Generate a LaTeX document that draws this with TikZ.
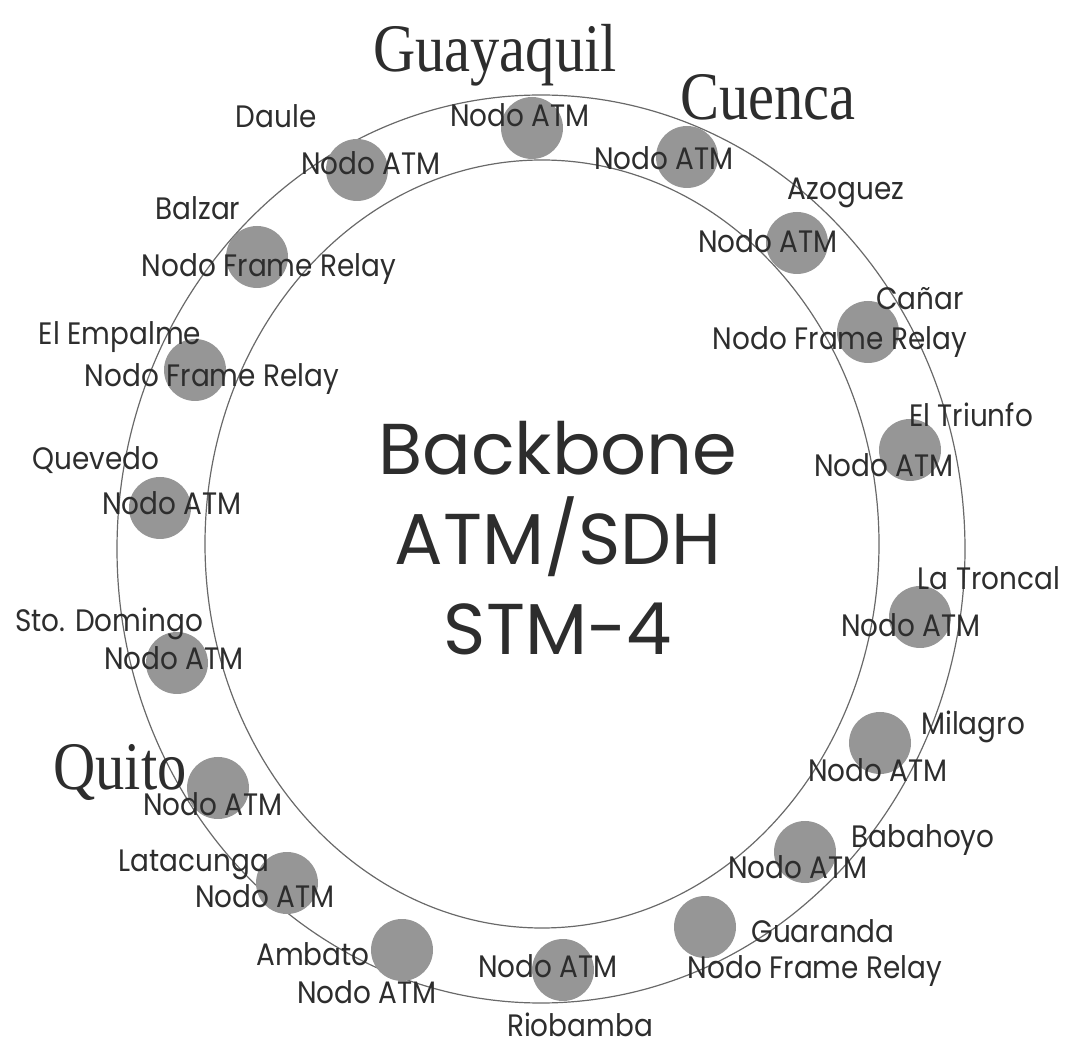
\documentclass[tikz,border=0pt]{standalone}
\usepackage{fontspec}
\newfontfamily\etiqfont[FakeStretch=0.9]{Poppins}
\newfontfamily\titulofont{Poppins}
\newfontfamily\ciudadfont[FakeStretch=0.86]{Liberation Serif}
\definecolor{nodogris}{RGB}{150,150,150}
\definecolor{tinta}{RGB}{45,45,45}
\definecolor{grisanillo}{RGB}{105,105,105}

\begin{document}
\begin{tikzpicture}[x=0.5pt, y=-0.5pt,
        nodo/.style={circle, fill=nodogris, minimum size=31pt, inner sep=0pt},
        tipo/.style={text=tinta, font=\etiqfont\fontsize{15.5}{18}\selectfont, inner sep=0pt, anchor=base},
        sitio/.style={text=tinta, font=\etiqfont\fontsize{15.5}{18}\selectfont, inner sep=0pt, anchor=base},
        ciudad/.style={text=tinta, font=\ciudadfont\fontsize{34}{40}\selectfont, inner sep=0pt, anchor=base},
        titulo/.style={text=tinta, font=\titulofont\fontsize{36}{45}\selectfont, align=center, inner sep=0pt},
        anillo/.style={draw=grisanillo, line width=0.6pt}
    ]
        \useasboundingbox (0,0) rectangle (1077,1047);

        % anillo del backbone
        \draw[anillo] (541,549) ellipse [x radius=212pt, y radius=227pt];
        \draw[anillo] (542,544) ellipse [x radius=168.5pt, y radius=192pt];

        % nodos
        \node[nodo] (gye) at (532,128) {};
        \node[nodo] (cue) at (687,157) {};
        \node[nodo] (daule) at (357,170) {};
        \node[nodo] (balzar) at (257,257) {};
        \node[nodo] (empalme) at (195,370) {};
        \node[nodo] (quevedo) at (160,508) {};
        \node[nodo] (domingo) at (177,663) {};
        \node[nodo] (uio) at (218,788) {};
        \node[nodo] (latacunga) at (287,883) {};
        \node[nodo] (ambato) at (402,950) {};
        \node[nodo] (riobamba) at (563,970) {};
        \node[nodo] (guaranda) at (705,927) {};
        \node[nodo] (babahoyo) at (805,852) {};
        \node[nodo] (milagro) at (880,743) {};
        \node[nodo] (troncal) at (920,617) {};
        \node[nodo] (triunfo) at (910,450) {};
        \node[nodo] (canar) at (868,332) {};
        \node[nodo] (azogues) at (797,243) {};

        % tipo de nodo
        \node[tipo] (gye-tipo) at (520,127) {Nodo ATM};
        \node[tipo] (cue-tipo) at (664,170) {Nodo ATM};
        \node[tipo] (daule-tipo) at (371,175) {Nodo ATM};
        \node[tipo] (balzar-tipo) at (269,277) {Nodo Frame Relay};
        \node[tipo] (empalme-tipo) at (212,387) {Nodo Frame Relay};
        \node[tipo] (quevedo-tipo) at (172,515) {Nodo ATM};
        \node[tipo] (domingo-tipo) at (174,670) {Nodo ATM};
        \node[tipo] (uio-tipo) at (213,815) {Nodo ATM};
        \node[tipo] (latacunga-tipo) at (265,907) {Nodo ATM};
        \node[tipo] (ambato-tipo) at (367,1003) {Nodo ATM};
        \node[tipo] (riobamba-tipo) at (548,977) {Nodo ATM};
        \node[tipo] (guaranda-tipo) at (815,978) {Nodo Frame Relay};
        \node[tipo] (babahoyo-tipo) at (798,878) {Nodo ATM};
        \node[tipo] (milagro-tipo) at (878,782) {Nodo ATM};
        \node[tipo] (troncal-tipo) at (911,637) {Nodo ATM};
        \node[tipo] (triunfo-tipo) at (884,477) {Nodo ATM};
        \node[tipo] (canar-tipo) at (840,350) {Nodo Frame Relay};
        \node[tipo] (azogues-tipo) at (768,253) {Nodo ATM};

        % nombres de sitios
        \node[sitio] (daule-nombre) at (276,128) {Daule};
        \node[sitio] (balzar-nombre) at (198,220) {Balzar};
        \node[sitio] (empalme-nombre) at (120,345) {El Empalme};
        \node[sitio] (quevedo-nombre) at (96,470) {Quevedo};
        \node[sitio] (domingo-nombre) at (109,632) {Sto. Domingo};
        \node[sitio] (latacunga-nombre) at (194,871) {Latacunga};
        \node[sitio] (ambato-nombre) at (313,965) {Ambato};
        \node[sitio] (riobamba-nombre) at (580,1036) {Riobamba};
        \node[sitio] (guaranda-nombre) at (823,942) {Guaranda};
        \node[sitio] (babahoyo-nombre) at (923,848) {Babahoyo};
        \node[sitio] (milagro-nombre) at (973,735) {Milagro};
        \node[sitio] (troncal-nombre) at (989,590) {La Troncal};
        \node[sitio] (triunfo-nombre) at (971,427) {El Triunfo};
        \node[sitio] (canar-nombre) at (920,310) {Cañar};
        \node[sitio] (azogues-nombre) at (846,200) {Azoguez};

        % ciudades principales
        \node[ciudad] (gye-nombre) at (495,72) {Guayaquil};
        \node[ciudad] (cue-nombre) at (768,120) {Cuenca};
        \node[ciudad] (uio-nombre) at (120,790) {Quito};

        \node[titulo] (backbone) at (558,538) {Backbone\\ATM/SDH\\STM-4};
    \end{tikzpicture}
\end{document}
